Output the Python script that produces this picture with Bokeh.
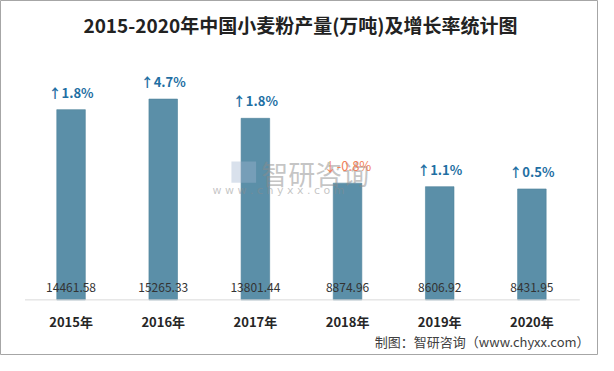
from bokeh.plotting import figure
from bokeh.models import ColumnDataSource, Range1d
from bokeh.embed import file_html
from bokeh.resources import INLINE
from bokeh.core.properties import value

# ---- data ----
years = ["2015年", "2016年", "2017年", "2018年", "2019年", "2020年"]
output = [14461.58, 15265.33, 13801.44, 8874.96, 8606.92, 8431.95]
growth = [1.8, 4.7, 1.8, -0.8, 1.1, 0.5]

title_text = "2015-2020年中国小麦粉产量(万吨)及增长率统计图"
footer_text = "制图：智研咨询（www.chyxx.com）"

# ---- layout helpers ----
W, H = 598, 355
KX, KY = 597 / 605, 354 / 363


def cx(r):
    return (r - 3) * KX


def cy(r):
    return (r - 3) * KY


X0_PX, DX_PX = cx(74.5), 93.4 * KX
BASE_PX = H - cy(310)
PPU = 0.01349 * KY


def xd(px):
    return (px - X0_PX) / DX_PX


def yd(px_top):
    return (H - px_top - BASE_PX) / PPU


FONT = value("Noto Sans CJK SC")

xs = list(range(len(years)))
labels_val = ["%.2f" % v for v in output]
labels_g = [("↑%.1f%%" % g) if g >= 0 else ("↓%.1f%%" % g) for g in growth]
colors_g = ["#1f6fa3" if g >= 0 else "#f2815a" for g in growth]
styles_g = ["bold" if g >= 0 else "normal" for g in growth]

src = ColumnDataSource(dict(x=xs, y=output, year=years, val=labels_val,
                            g=labels_g, gc=colors_g, gs=styles_g,
                            zero=[0] * len(xs)))

p = figure(width=W, height=H, output_backend="svg", toolbar_location=None,
           x_range=Range1d(xd(0), xd(W)), y_range=Range1d(yd(H), yd(0)),
           x_axis_location=None, y_axis_location=None, min_border=0,
           background_fill_color="white", border_fill_color="white")
p.grid.visible = False
p.outline_line_color = "#a6a6a6"
p.outline_line_width = 1

# bars
p.vbar(x="x", top="y", bottom=0, width=0.31, source=src,
       fill_color="#5b8fa8", line_color="#4f839c", line_width=0.6)

# baseline
p.segment(x0=[-0.5], x1=[len(xs) - 0.48], y0=[0], y1=[0],
          line_color="#d9d9d9", line_width=1)

# watermark (on top of bars)
p.quad(left=[xd(cx(237))], right=[xd(cx(262))], bottom=[yd(cy(190))],
       top=[yd(cy(168))], fill_color="#9fb3d0", fill_alpha=0.4,
       line_color=None)
p.text(x=[xd(cx(322))], y=[yd(cy(180))], text=["智研咨询"], text_font=FONT,
       text_font_size="27px", text_color="#8c8c8c", text_alpha=0.5,
       text_align="center", text_baseline="middle")
p.text(x=[xd(cx(306))], y=[yd(cy(198))],
       text=["w  w  w  .  c  h  y  x  x  .  c  o  m"],
       text_font=value("DejaVu Sans"), text_font_size="11px",
       text_color="#8c8c8c", text_alpha=0.5,
       text_align="center", text_baseline="middle")

# value labels
p.text(x="x", y="zero", text="val", source=src, text_font=FONT,
       text_font_size="12px", text_color="#333333", text_align="center",
       text_baseline="middle", y_offset=-12.5)

# growth labels
p.text(x="x", y="y", text="g", source=src, text_font=FONT,
       text_font_size="13px", text_color="gc", text_font_style="gs",
       text_align="center", text_baseline="middle", y_offset=-17.5)

# x labels
p.text(x="x", y="zero", text="year", source=src, text_font=FONT,
       text_font_size="13px", text_font_style="bold", text_color="#262626",
       text_align="center", text_baseline="middle", y_offset=21.5)

# title
p.text(x=[xd(cx(307))], y=[yd(cy(28))], text=[title_text], text_font=FONT,
       text_font_size="19px", text_font_style="bold", text_color="#222222",
       text_align="center", text_baseline="middle")

# footer
p.text(x=[xd(cx(600))], y=[yd(cy(353))], text=[footer_text], text_font=FONT,
       text_font_size="13px", text_color="#404040",
       text_align="right", text_baseline="middle")

open("out.html", "w").write(file_html(p, INLINE))
